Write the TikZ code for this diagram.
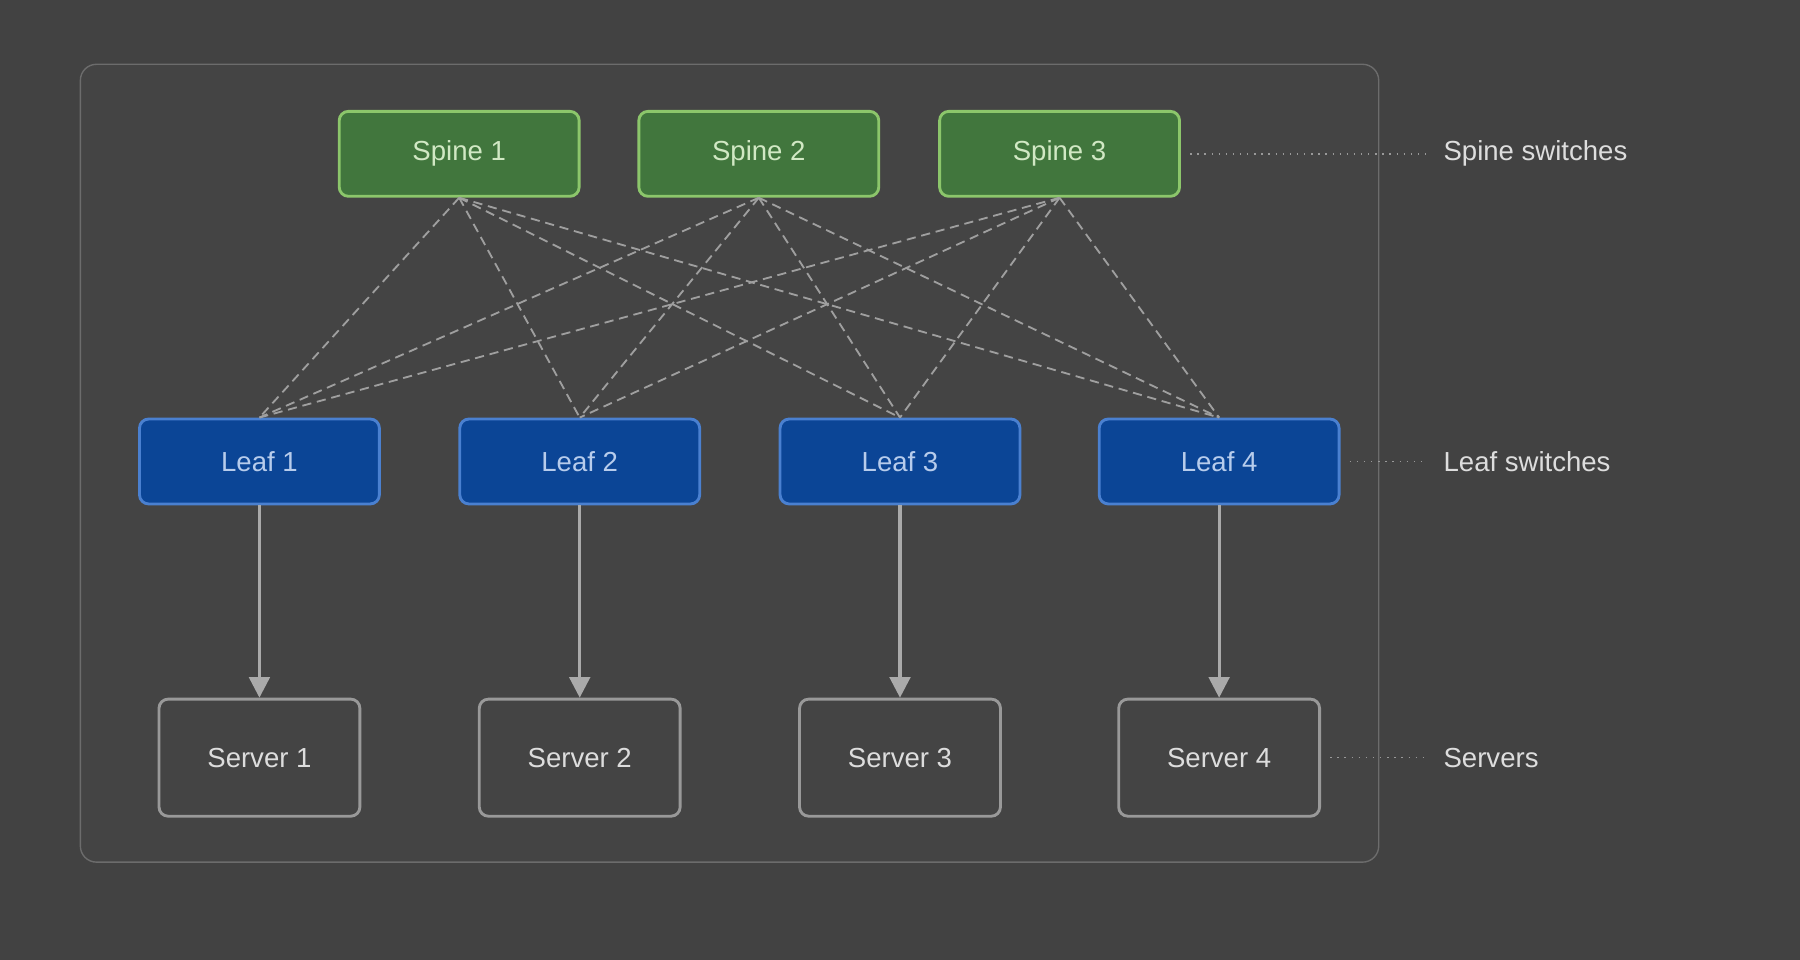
\documentclass[tikz,border=0pt]{standalone}
\usepackage{fontspec}
\setmainfont{Liberation Sans}
\usetikzlibrary{arrows.meta}
\definecolor{bgc}{HTML}{424242}
\definecolor{panelc}{HTML}{444444}
\definecolor{spinef}{HTML}{41763D}
\definecolor{spined}{HTML}{8CC66B}
\definecolor{leaff}{HTML}{0B4596}
\definecolor{leafd}{HTML}{4A80D0}
\definecolor{txtc}{HTML}{DDDDDD}
\definecolor{linkc}{HTML}{AAAAAA}
\begin{document}
\begin{tikzpicture}[x=1pt,y=-1pt,
  every node/.style={font=\fontsize{24}{28}\selectfont, text=txtc},
  spinebox/.style={draw=spined, fill=spinef, line width=2.5pt, rounded corners=8pt,
    minimum width=209pt, minimum height=74pt, text=spined!40!white},
  leafbox/.style={draw=leafd, fill=leaff, line width=2.5pt, rounded corners=8pt,
    minimum width=209pt, minimum height=74pt, text=leafd!40!white},
  serverbox/.style={draw=gray!80, fill=panelc, line width=2.5pt, rounded corners=8pt,
    minimum width=175pt, minimum height=102pt},
  uplink/.style={draw=gray!75, dash pattern=on 8pt off 5pt, line width=1.6pt},
  downlink/.style={draw=linkc, line width=2.8pt, -{Triangle[length=18pt,width=18pt]}},
  guide/.style={draw=gray!80, dash pattern=on 1.2pt off 5pt, line width=1.3pt, shorten >=12pt}]
\fill[bgc] (0,0) rectangle (1568,836);
\useasboundingbox (0,0) rectangle (1568,836);
\draw[fill=panelc, draw=gray!85!black, line width=1.2pt, rounded corners=14pt] (70,56) rectangle (1201,751);
% spine switches
\foreach \i/\x in {1/400,2/661,3/923}
  \node[spinebox] (spine\i) at (\x,134) {Spine \i};
% leaf switches and servers
\foreach \i/\x in {1/226,2/505,3/784,4/1062}{
  \node[leafbox] (leaf\i) at (\x,402) {Leaf \i};
  \node[serverbox] (server\i) at (\x,660) {Server \i};
  \draw[downlink] (leaf\i.south) -- (server\i.north);
}
% full mesh
\foreach \s in {1,2,3}
  \foreach \l in {1,2,3,4}
    \draw[uplink] (spine\s.south) -- (leaf\l.north);
% side labels
\node[anchor=west] (spinelbl) at (1254,134) {Spine switches};
\node[anchor=west] (leaflbl) at (1254,402) {Leaf switches};
\node[anchor=west] (serverlbl) at (1254,660) {Servers};
\draw[guide] ([xshift=8pt]spine3.east) -- (spinelbl.west);
\draw[guide] ([xshift=8pt]leaf4.east) -- (leaflbl.west);
\draw[guide] ([xshift=8pt]server4.east) -- (serverlbl.west);
\end{tikzpicture}
\end{document}
